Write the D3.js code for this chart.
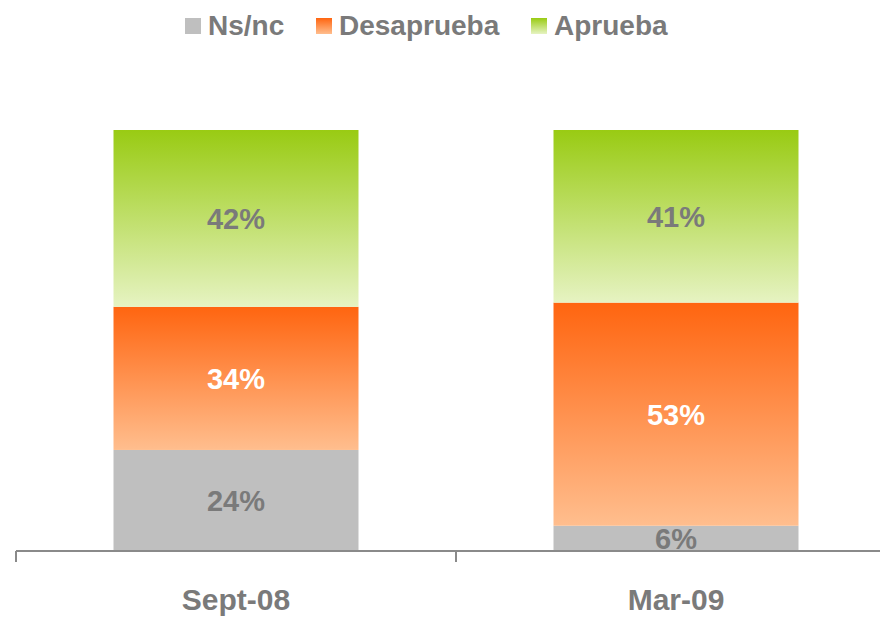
<!DOCTYPE html>
<html><head><meta charset="utf-8">
<script src="https://cdn.jsdelivr.net/npm/d3@7"></script>
<style>body{margin:0;background:#fff}svg{display:block}</style>
</head><body>
<script>
const categories = ["Sept-08", "Mar-09"];
const seriesNames = ["Ns/nc", "Desaprueba", "Aprueba"];
const nsnc = [24, 6];
const desaprueba = [34, 53];
const aprueba = [42, 41];

const W = 880, H = 617;
const svg = d3.select("body").append("svg").attr("width", W).attr("height", H);
const font = "'Liberation Sans', Arial, sans-serif";

const defs = svg.append("defs");
function grad(id, top, bottom) {
  const g = defs.append("linearGradient").attr("id", id).attr("x1", 0).attr("y1", 0).attr("x2", 0).attr("y2", 1);
  g.append("stop").attr("offset", "0%").attr("stop-color", top);
  g.append("stop").attr("offset", "100%").attr("stop-color", bottom);
}
grad("gOrange", "#ff6510", "#ffbe8e");
grad("gGreen", "#99cb13", "#e6f3c2");
const fills = ["#bfbfbf", "url(#gOrange)", "url(#gGreen)"];
const labelColors = ["#7a7a7a", "#ffffff", "#7a7a7a"];

const x = d3.scaleBand().domain(categories).range([16, 896]).paddingInner(0).paddingOuter(0);
const y = d3.scaleLinear().domain([0, 100]).range([551, 130]);
const barW = 245;

const rows = categories.map((c, i) => ({cat: c, "Ns/nc": nsnc[i], "Desaprueba": desaprueba[i], "Aprueba": aprueba[i]}));
const stack = d3.stack().keys(seriesNames)(rows);

stack.forEach((s, si) => {
  const g = svg.append("g");
  s.forEach(d => {
    const cx = x(d.data.cat) + x.bandwidth() / 2;
    g.append("rect")
      .attr("x", cx - barW / 2).attr("width", barW)
      .attr("y", y(d[1])).attr("height", y(d[0]) - y(d[1]))
      .attr("fill", fills[si]);
  });
});
stack.forEach((s, si) => {
  s.forEach(d => {
    const cx = x(d.data.cat) + x.bandwidth() / 2;
    svg.append("text")
      .attr("x", cx).attr("y", (y(d[0]) + y(d[1])) / 2 + 11)
      .attr("text-anchor", "middle")
      .attr("font-family", font).attr("font-weight", "bold").attr("font-size", 29)
      .attr("fill", labelColors[si])
      .text((d[1] - d[0]) + "%");
  });
});

// axis
const axis = svg.append("g").attr("transform", "translate(0,551)");
axis.append("line").attr("x1", 16).attr("x2", 880).attr("y1", 0).attr("y2", 0).attr("stroke", "#8a8a8a").attr("stroke-width", 2);
const tickPos = [16, 16 + x.bandwidth()];
tickPos.forEach(t => axis.append("line").attr("x1", t).attr("x2", t).attr("y1", 0).attr("y2", 11).attr("stroke", "#8a8a8a").attr("stroke-width", 2));
categories.forEach(c => {
  axis.append("text").attr("x", x(c) + x.bandwidth() / 2).attr("y", 59)
    .attr("text-anchor", "middle").attr("font-family", font).attr("font-weight", "bold")
    .attr("font-size", 30).attr("fill", "#7a7a7a").text(c);
});

// legend
const legendX = [185, 316, 531];
const legendFills = ["#bfbfbf", "url(#gOrange)", "url(#gGreen)"];
seriesNames.forEach((n, i) => {
  svg.append("rect").attr("x", legendX[i]).attr("y", 18).attr("width", 16).attr("height", 16).attr("fill", legendFills[i]);
  svg.append("text").attr("x", legendX[i] + 23).attr("y", 35)
    .attr("font-family", font).attr("font-weight", "bold").attr("font-size", 28)
    .attr("fill", "#7a7a7a").text(n);
});
</script>
</body></html>
